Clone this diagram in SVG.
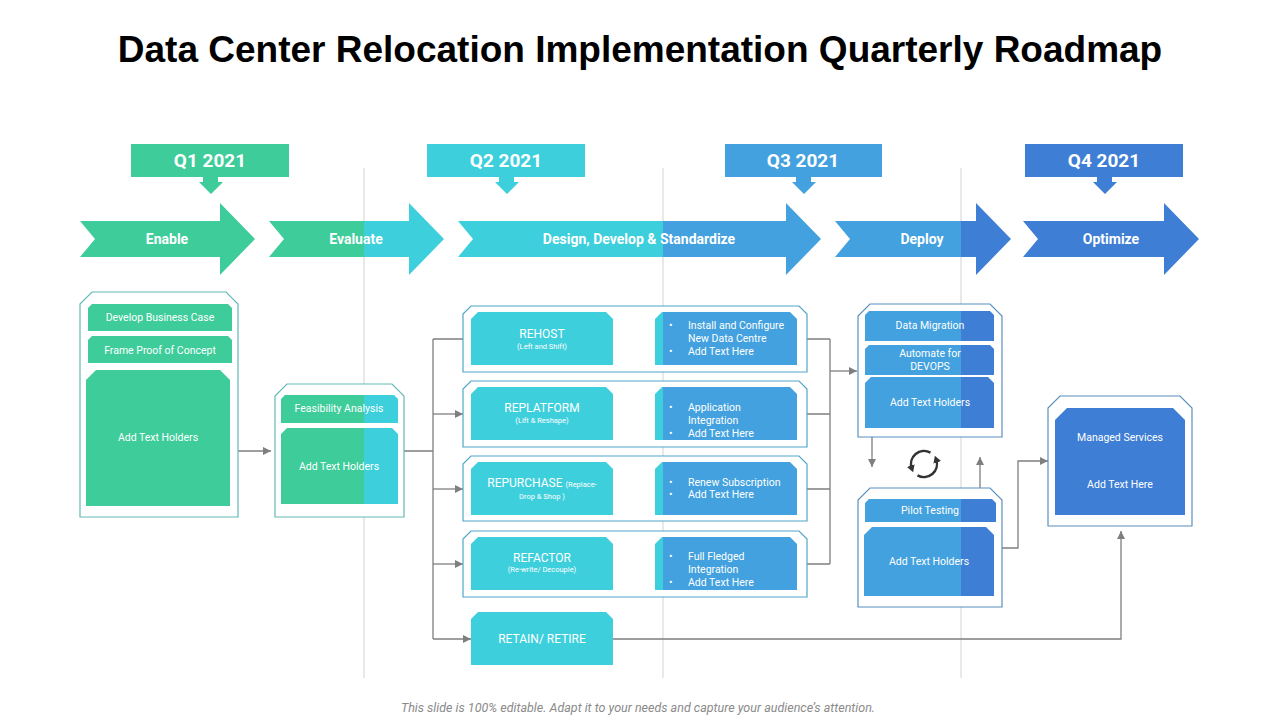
<svg xmlns="http://www.w3.org/2000/svg" width="1280" height="720" viewBox="0 0 1280 720">
<defs>
<linearGradient id="band" gradientUnits="userSpaceOnUse" x1="0" y1="0" x2="1280" y2="0">
<stop offset="0" stop-color="#3ECC9A"/><stop offset="0.284375" stop-color="#3ECC9A"/>
<stop offset="0.284375" stop-color="#3DCFDC"/><stop offset="0.51797" stop-color="#3DCFDC"/>
<stop offset="0.51797" stop-color="#42A1DE"/><stop offset="0.75078" stop-color="#42A1DE"/>
<stop offset="0.75078" stop-color="#3E7ED4"/><stop offset="1" stop-color="#3E7ED4"/>
</linearGradient>
<marker id="ah" markerUnits="userSpaceOnUse" markerWidth="9" markerHeight="9" refX="8" refY="4" orient="auto">
<path d="M0,0 L8,4 L0,8 Z" fill="#7F7F7F"/>
</marker>
<marker id="rh" markerUnits="userSpaceOnUse" markerWidth="10" markerHeight="10" refX="3" refY="4" orient="auto">
<path d="M0,0 L7,4 L0,8 Z" fill="#333"/>
</marker>
</defs>
<style>
.f{fill:url(#band)}
.ol{fill:#fff;stroke:#62B9B6;stroke-width:1.2}
.ol2{fill:#fff;stroke:#4FA6CA;stroke-width:1.2}
.ol3{fill:#fff;stroke:#5A8FBC;stroke-width:1.2}
.t{font-family:Roboto,"Liberation Sans",sans-serif;fill:#fff;font-size:10.5px;text-anchor:middle}
.tl{font-family:Roboto,"Liberation Sans",sans-serif;fill:#fff;font-size:10.5px}
.big{font-size:12px}
.sub{font-size:7.5px}
.q{font-family:Roboto,"Liberation Sans",sans-serif;font-weight:bold;fill:#fff;font-size:19px;text-anchor:middle}
.ch{font-family:Roboto,"Liberation Sans",sans-serif;font-weight:bold;fill:#fff;font-size:14px;text-anchor:middle}
.c{fill:none;stroke:#7F7F7F;stroke-width:1.3}
.div{stroke:#D3D3D3;stroke-width:1}
</style>
<rect width="1280" height="720" fill="#fff"/>
<text x="640" y="62" font-family="'Liberation Sans',Arial,sans-serif" font-weight="bold" font-size="37" text-anchor="middle" fill="#000">Data Center Relocation Implementation Quarterly Roadmap</text>

<g id="dividers">
<line class="div" x1="364" y1="168" x2="364" y2="678"/>
<line class="div" x1="663" y1="168" x2="663" y2="678"/>
<line class="div" x1="961" y1="168" x2="961" y2="678"/>
</g>

<g id="q1"><rect class="f" x="131" y="144" width="158" height="33"/><path class="f" d="M203,176 L218,176 L218,182 L223,182 L211,194 L199,182 L203,182 Z"/><text class="q" x="210" y="167">Q1 2021</text></g>
<g id="q2"><rect class="f" x="427" y="144" width="158" height="33"/><path class="f" d="M499,176 L514,176 L514,182 L519,182 L507,194 L495,182 L499,182 Z"/><text class="q" x="506" y="167">Q2 2021</text></g>
<g id="q3"><rect class="f" x="725" y="144" width="157" height="33"/><path class="f" d="M796,176 L811,176 L811,182 L816,182 L804,194 L792,182 L796,182 Z"/><text class="q" x="803" y="167">Q3 2021</text></g>
<g id="q4"><rect class="f" x="1025" y="144" width="158" height="33"/><path class="f" d="M1097,176 L1112,176 L1112,182 L1117,182 L1105,194 L1093,182 L1097,182 Z"/><text class="q" x="1104" y="167">Q4 2021</text></g>

<g id="enable"><path class="f" d="M80,221 L220,221 L220,203 L255,239 L220,275 L220,257 L80,257 L95,239 Z"/><text class="ch" x="167" y="244">Enable</text></g>
<g id="evaluate"><path class="f" d="M269,221 L409,221 L409,203 L444,239 L409,275 L409,257 L269,257 L284,239 Z"/><text class="ch" x="356" y="244">Evaluate</text></g>
<g id="design"><path class="f" d="M458,221 L786,221 L786,203 L821,239 L786,275 L786,257 L458,257 L473,239 Z"/><text class="ch" x="639" y="244">Design, Develop &amp; Standardize</text></g>
<g id="deploy"><path class="f" d="M835,221 L976,221 L976,203 L1011,239 L976,275 L976,257 L835,257 L850,239 Z"/><text class="ch" x="922" y="244">Deploy</text></g>
<g id="optimize"><path class="f" d="M1023,221 L1164,221 L1164,203 L1199,239 L1164,275 L1164,257 L1023,257 L1038,239 Z"/><text class="ch" x="1111" y="244">Optimize</text></g>

<g id="connectors">
<path class="c" d="M238,451 L271,451" marker-end="url(#ah)"/>
<path class="c" d="M404,451 L433,451 M433,339 L433,639 M433,339 L463,339"/>
<path class="c" d="M433,414 L463,414" marker-end="url(#ah)"/>
<path class="c" d="M433,489 L463,489" marker-end="url(#ah)"/>
<path class="c" d="M433,564 L463,564" marker-end="url(#ah)"/>
<path class="c" d="M433,639 L471,639" marker-end="url(#ah)"/>
<path class="c" d="M807,339 L830,339 M807,414 L830,414 M807,489 L830,489 M807,564 L830,564 M830,339 L830,564"/>
<path class="c" d="M830,371 L857,371" marker-end="url(#ah)"/>
<path class="c" d="M872,437 L872,467" marker-end="url(#ah)"/>
<path class="c" d="M980,488 L980,457" marker-end="url(#ah)"/>
<path class="c" d="M1002,548 L1018,548 L1018,461 L1048,461" marker-end="url(#ah)"/>
<path class="c" d="M613,639 L1121,639 L1121,531" marker-end="url(#ah)"/>
</g>

<g id="enable-box">
<path class="ol" d="M92,292 L226,292 L238,304 L238,517 L80,517 L80,304 Z"/>
<path class="f" d="M92,304 L228,304 L232,308 L232,331 L88,331 L88,308 Z"/>
<text class="t" x="160" y="321">Develop Business Case</text>
<path class="f" d="M92,336 L228,336 L232,340 L232,363 L88,363 L88,340 Z"/>
<text class="t" x="160" y="354">Frame Proof of Concept</text>
<path class="f" d="M96,370 L220,370 L230,380 L230,506 L86,506 L86,380 Z"/>
<text class="t" x="158" y="441">Add Text Holders</text>
</g>

<g id="feasibility-box">
<path class="ol" d="M287,384 L392,384 L404,396 L404,517 L275,517 L275,396 Z"/>
<path class="f" d="M285,395 L394,395 L398,399 L398,423 L281,423 L281,399 Z"/>
<text class="t" x="339" y="412">Feasibility Analysis</text>
<path class="f" d="M287,428 L392,428 L398,434 L398,504 L281,504 L281,434 Z"/>
<text class="t" x="339" y="470">Add Text Holders</text>
</g>

<g id="rehost">
<path class="ol2" d="M471,306 L799,306 L807,314 L807,372 L463,372 L463,314 Z"/>
<path class="f" d="M478,312 L606,312 L613,319 L613,365 L471,365 L471,319 Z"/>
<text class="t big" x="542" y="338">REHOST</text>
<text class="t sub" x="542" y="349">(Left and Shift)</text>
<path class="f" d="M662,312 L790,312 L797,319 L797,365 L655,365 L655,319 Z"/>
<text class="tl"><tspan x="669" y="329">•</tspan><tspan x="688" y="329">Install and Configure</tspan><tspan x="688" y="342">New Data Centre</tspan><tspan x="669" y="355">•</tspan><tspan x="688" y="355">Add Text Here</tspan></text>
</g>

<g id="replatform">
<path class="ol2" d="M471,381 L799,381 L807,389 L807,447 L463,447 L463,389 Z"/>
<path class="f" d="M478,387 L606,387 L613,394 L613,440 L471,440 L471,394 Z"/>
<text class="t big" x="542" y="412">REPLATFORM</text>
<text class="t sub" x="542" y="423">(Lift &amp; Reshape)</text>
<path class="f" d="M662,387 L790,387 L797,394 L797,440 L655,440 L655,394 Z"/>
<text class="tl"><tspan x="669" y="411">•</tspan><tspan x="688" y="411">Application</tspan><tspan x="688" y="424">Integration</tspan><tspan x="669" y="437">•</tspan><tspan x="688" y="437">Add Text Here</tspan></text>
</g>

<g id="repurchase">
<path class="ol2" d="M471,456 L799,456 L807,464 L807,521 L463,521 L463,464 Z"/>
<path class="f" d="M478,462 L606,462 L613,469 L613,515 L471,515 L471,469 Z"/>
<text class="t big" x="542" y="487">REPURCHASE <tspan class="sub">(Replace-</tspan></text>
<text class="t sub" x="542" y="499">Drop &amp; Shop )</text>
<path class="f" d="M662,462 L790,462 L797,469 L797,515 L655,515 L655,469 Z"/>
<text class="tl"><tspan x="669" y="486">•</tspan><tspan x="688" y="486">Renew Subscription</tspan><tspan x="669" y="498">•</tspan><tspan x="688" y="498">Add Text Here</tspan></text>
</g>

<g id="refactor">
<path class="ol2" d="M471,531 L799,531 L807,539 L807,597 L463,597 L463,539 Z"/>
<path class="f" d="M478,537 L606,537 L613,544 L613,590 L471,590 L471,544 Z"/>
<text class="t big" x="542" y="562">REFACTOR</text>
<text class="t sub" x="542" y="572">(Re-write/  Decouple)</text>
<path class="f" d="M662,537 L790,537 L797,544 L797,590 L655,590 L655,544 Z"/>
<text class="tl"><tspan x="669" y="560">•</tspan><tspan x="688" y="560">Full Fledged</tspan><tspan x="688" y="573">Integration</tspan><tspan x="669" y="586">•</tspan><tspan x="688" y="586">Add Text Here</tspan></text>
</g>

<g id="retain">
<path class="f" d="M478,612 L606,612 L613,619 L613,665 L471,665 L471,619 Z"/>
<text class="t big" x="542" y="643">RETAIN/ RETIRE</text>
</g>

<g id="deploy-box">
<path class="ol3" d="M870,304 L990,304 L1002,316 L1002,437 L858,437 L858,316 Z"/>
<path class="f" d="M869,311 L990,311 L994,315 L994,341 L865,341 L865,315 Z"/>
<text class="t" x="930" y="329">Data Migration</text>
<path class="f" d="M869,345 L990,345 L994,349 L994,375 L865,375 L865,349 Z"/>
<text class="t" x="930" y="357">Automate for</text>
<text class="t" x="930" y="370">DEVOPS</text>
<path class="f" d="M871,377 L988,377 L994,383 L994,428 L865,428 L865,383 Z"/>
<text class="t" x="930" y="406">Add Text Holders</text>
</g>

<g id="refresh">
<path d="M930.5,452.7 A13,13 0 0 0 911.8,468.4" fill="none" stroke="#333" stroke-width="2.5" marker-end="url(#rh)"/>
<path d="M917.5,475.3 A13,13 0 0 0 936.2,459.6" fill="none" stroke="#333" stroke-width="2.5" marker-end="url(#rh)"/>
</g>

<g id="pilot-box">
<path class="ol3" d="M870,488 L990,488 L1002,500 L1002,607 L858,607 L858,500 Z"/>
<path class="f" d="M869,499 L992,499 L996,503 L996,522 L865,522 L865,503 Z"/>
<text class="t" x="930" y="514">Pilot Testing</text>
<path class="f" d="M872,527 L986,527 L994,535 L994,596 L864,596 L864,535 Z"/>
<text class="t" x="929" y="565">Add Text Holders</text>
</g>

<g id="managed-box">
<path class="ol3" d="M1060,396 L1180,396 L1192,408 L1192,526 L1048,526 L1048,408 Z"/>
<path class="f" d="M1067,408 L1173,408 L1185,420 L1185,515 L1055,515 L1055,420 Z"/>
<text class="t" x="1120" y="441">Managed  Services</text>
<text class="t" x="1120" y="488">Add Text Here</text>
</g>

<text x="638" y="712" font-family="Roboto,'Liberation Sans',sans-serif" font-style="italic" font-size="12.5" fill="#8A8A8A" text-anchor="middle">This slide is 100% editable. Adapt it to your needs and capture your audience’s attention.</text>
</svg>
